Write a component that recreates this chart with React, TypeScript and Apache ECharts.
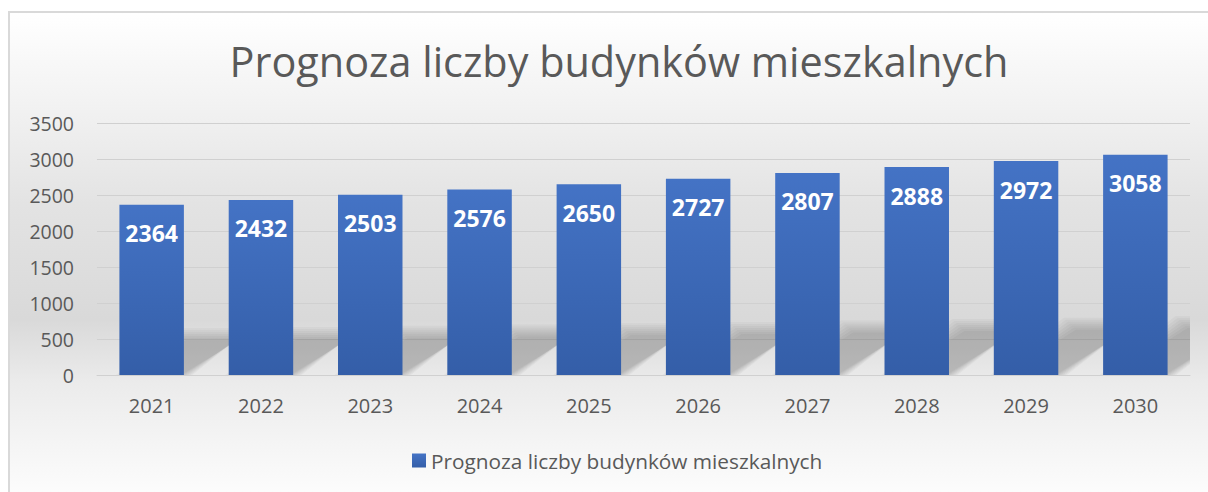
import React, { useEffect, useRef } from "react";
import * as echarts from "echarts";

const TITLE = "Prognoza liczby budynków mieszkalnych";
const SERIES_NAME = "Prognoza liczby budynków mieszkalnych";
const years = ["2021", "2022", "2023", "2024", "2025", "2026", "2027", "2028", "2029", "2030"];
const values = [2364, 2432, 2503, 2576, 2650, 2727, 2807, 2888, 2972, 3058];
const yMin = 0;
const yMax = 3500;
const yInterval = 500;

const FONT = "Open Sans";
const TEXT_GRAY = "#595959";
const BAR_RATIO = 0.59;

export default function App() {
  const ref = useRef<HTMLDivElement>(null);
  useEffect(() => {
    if (!ref.current) return;
    const chart = echarts.init(ref.current, undefined, { renderer: "svg" });
    const shadowData = values.map((v, i) => [i, v]);
    chart.setOption({
      animation: false,
      backgroundColor: new echarts.graphic.LinearGradient(0, 0, 0, 1, [
        { offset: 0, color: "#ffffff" },
        { offset: 0.22, color: "#f0f0f0" },
        { offset: 0.4, color: "#e3e3e3" },
        { offset: 0.64, color: "#d9d9d9" },
        { offset: 0.77, color: "#ebebeb" },
        { offset: 1, color: "#fcfcfc" },
      ]),
      title: {
        text: TITLE,
        left: 604,
        top: 22,
        textAlign: "center",
        textStyle: { fontFamily: FONT, fontSize: 41.4, fontWeight: "normal", color: TEXT_GRAY },
      },
      legend: {
        data: [SERIES_NAME],
        left: 397,
        top: 432,
        icon: "rect",
        itemWidth: 14,
        itemHeight: 14,
        itemGap: 10,
        textStyle: { fontFamily: FONT, fontSize: 20.8, color: TEXT_GRAY },
      },
      grid: { left: 87, right: 18, top: 110, bottom: 117 },
      xAxis: {
        type: "category",
        data: years,
        axisLine: { show: true, lineStyle: { color: "#d0d0d0", width: 1 } },
        axisTick: { show: false },
        axisLabel: { fontFamily: FONT, fontSize: 20, color: TEXT_GRAY, margin: 20 },
      },
      yAxis: {
        type: "value",
        min: yMin,
        max: yMax,
        interval: yInterval,
        axisLine: { show: false },
        axisTick: { show: false },
        axisLabel: {
          fontFamily: FONT,
          fontSize: 19.5,
          color: TEXT_GRAY,
          margin: 23,
          formatter: (v: number) => String(v),
        },
        splitLine: { lineStyle: { color: "#d0d0d0", width: 1 } },
      },
      series: [
        {
          type: "custom",
          name: "shadow",
          z: 1,
          clip: true,
          silent: true,
          data: shadowData,
          encode: { x: 0, y: 1 },
          renderItem: (params: any, api: any) => {
            const base = api.coord([api.value(0), 0]);
            const top = api.coord([api.value(0), api.value(1)]);
            const bw = api.size([1, 0])[0] * BAR_RATIO;
            const h = (base[1] - top[1]) * 0.24;
            const dx = h * 1.48;
            const xl = base[0] - bw / 2;
            const xr = base[0] + bw / 2;
            const y0 = base[1];
            const layers = [];
            const steps = 7;
            for (let k = 0; k < steps; k++) {
              const e = -6 + (12 * k) / (steps - 1);
              layers.push({
                type: "polygon",
                shape: {
                  points: [
                    [xl - e, y0 + 2],
                    [xr + e, y0 + 2],
                    [xr + dx + e, y0 - h - e],
                    [xl + dx - e, y0 - h - e],
                  ],
                },
                style: { fill: "rgba(0,0,0,0.032)" },
              });
            }
            return { type: "group", children: layers };
          },
        },
        {
          type: "bar",
          name: SERIES_NAME,
          z: 2,
          data: values,
          barWidth: `${BAR_RATIO * 100}%`,
          itemStyle: {
            color: new echarts.graphic.LinearGradient(0, 0, 0, 1, [
              { offset: 0, color: "#4473c5" },
              { offset: 1, color: "#345ea8" },
            ]),
          },
          label: {
            show: true,
            position: "insideTop",
            distance: 17,
            color: "#ffffff",
            fontFamily: FONT,
            fontWeight: "bold",
            fontSize: 23,
          },
        },
      ],
    });
    return () => chart.dispose();
  }, []);

  return (
    <div
      style={{
        position: "fixed",
        left: 8,
        top: 11,
        borderLeft: "2px solid #d9d9d9",
        borderTop: "2px solid #d9d9d9",
        background: "#ffffff",
      }}
    >
      <div ref={ref} style={{ width: 1198, height: 479 }} />
    </div>
  );
}
